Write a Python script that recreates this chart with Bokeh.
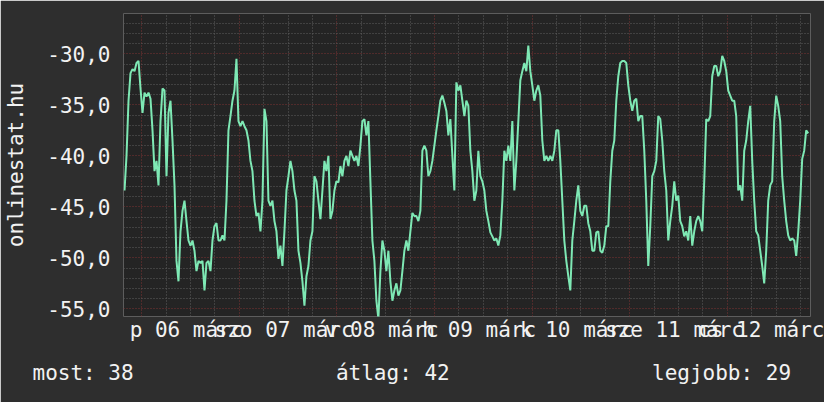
import pandas as pd
from bokeh.plotting import figure
from bokeh.models import FixedTicker, Range1d, Title
from bokeh.embed import file_html
from bokeh.resources import INLINE

# Sensor series: one reading every 29.5 minutes from 5 March 19:45
start = pd.Timestamp("2020-03-05 19:45")
step_minutes = 29.5
values = [
    -43.4, -40.0, -34.6, -31.9, -31.5, -31.7, -30.9, -30.7, -33.4, -35.8,
    -33.8, -34.2, -33.8, -34.4, -37.5, -41.5, -40.5, -42.9, -36.6, -33.4,
    -33.6, -42.0, -35.8, -34.6, -38.5, -42.9, -50.3, -52.3, -47.4, -45.4,
    -44.4, -46.4, -48.3, -48.8, -48.3, -49.3, -51.3, -50.3, -50.5, -50.3,
    -53.2, -50.5, -50.3, -51.3, -48.3, -46.9, -46.6, -48.3, -48.3, -47.8,
    -48.3, -44.4, -37.5, -36.1, -34.6, -33.6, -30.5, -36.6, -37.1, -36.6,
    -37.1, -37.5, -38.5, -40.5, -41.5, -44.4, -45.9, -45.6, -47.4, -44.4,
    -35.4, -36.6, -44.4, -44.9, -44.4, -46.4, -47.4, -50.1, -48.8, -50.8,
    -47.4, -43.4, -42.0, -40.5, -41.5, -43.4, -44.4, -49.3, -50.5, -52.3,
    -54.7, -51.8, -50.8, -48.3, -47.4, -42.0, -42.5, -44.4, -46.2, -43.4,
    -40.5, -41.5, -40.0, -46.2, -45.4, -43.4, -42.5, -42.6, -41.0, -42.0,
    -40.5, -40.0, -41.0, -39.5, -40.0, -40.5, -40.0, -41.0, -39.0, -36.6,
    -36.4, -38.0, -36.6, -42.5, -48.3, -50.3, -54.2, -56.0, -51.3, -48.3,
    -49.3, -51.3, -49.3, -52.3, -54.2, -53.2, -52.5, -53.7, -53.2, -51.3,
    -49.3, -48.3, -49.3, -47.4, -45.6, -45.9, -45.9, -46.4, -45.4, -39.5,
    -39.0, -39.5, -42.0, -41.5, -40.5, -39.0, -37.5, -36.1, -34.6, -34.1,
    -34.8, -35.6, -38.0, -36.4, -40.0, -43.4, -32.8, -33.6, -33.1, -34.6,
    -36.1, -34.6, -35.1, -39.5, -41.5, -44.4, -43.4, -39.5, -42.0, -42.5,
    -43.4, -45.4, -46.4, -47.5, -47.9, -48.3, -48.1, -48.8, -47.8, -44.4,
    -39.5, -40.5, -39.0, -40.5, -36.6, -43.4, -40.5, -36.6, -32.6, -31.7,
    -30.9, -31.7, -29.2, -31.7, -33.1, -34.6, -33.6, -33.1, -34.1, -38.5,
    -40.5, -40.0, -40.5, -40.0, -40.5, -39.5, -37.5, -37.5, -40.5, -44.4,
    -48.3, -50.3, -51.8, -53.2, -48.3, -46.4, -44.4, -42.9, -45.4, -45.9,
    -44.9, -44.9, -46.6, -47.4, -49.3, -49.3, -47.5, -47.4, -49.3, -49.5,
    -48.8, -46.9, -46.9, -42.5, -39.5, -38.5, -34.6, -32.2, -30.9, -30.7,
    -30.7, -30.9, -33.1, -34.6, -35.6, -34.6, -34.4, -36.6, -36.1, -36.1,
    -39.5, -44.4, -50.8, -46.9, -42.0, -41.5, -40.5, -36.1, -36.4, -38.5,
    -41.5, -43.4, -48.3, -46.4, -44.9, -42.5, -44.4, -43.9, -46.4, -46.9,
    -47.9, -47.4, -48.3, -45.9, -48.8, -47.4, -46.4, -45.9, -46.4, -47.4,
    -42.5, -36.4, -36.6, -36.1, -32.2, -31.2, -31.2, -32.2, -31.7, -30.2,
    -30.7, -31.7, -33.6, -34.1, -34.6, -34.6, -36.1, -43.4, -42.9, -44.4,
    -39.5, -38.5, -36.6, -35.1, -40.5, -44.4, -47.4, -47.8, -49.3, -50.8,
    -52.5, -49.3, -44.4, -42.9, -42.5, -36.6, -34.1, -35.1, -36.6, -42.0,
    -44.4, -46.4, -47.8, -48.3, -48.1, -48.3, -49.8, -47.5, -44.4, -40.3,
    -39.5, -37.5, -37.8,
]

# Day labels (Hungarian weekday abbreviation, day, month)
label_days = ["2020-03-06", "2020-03-07", "2020-03-08", "2020-03-09",
              "2020-03-10", "2020-03-11", "2020-03-12"]
day_labels = ["p 06 márc", "szo 07 márc", "v 08 márc", "h 09 márc",
              "k 10 márc", "sze 11 márc", "cs 12 márc"]

y_ticks = [-55, -50, -45, -40, -35, -30]
y_tick_labels = ["-55,0", "-50,0", "-45,0", "-40,0", "-35,0", "-30,0"]

view_start = pd.Timestamp("2020-03-05 19:30")
view_end = pd.Timestamp("2020-03-12 20:28")
y_low, y_high = -55.75, -26.05


def ms(ts):
    return int(pd.Timestamp(ts).value // 10**6)


times = [start + pd.Timedelta(minutes=step_minutes * i) for i in range(len(values))]
xs = [ms(t) for t in times]

label_ticks = [ms(pd.Timestamp(d) + pd.Timedelta(hours=11)) for d in label_days]
midnights = [ms(d) for d in label_days]
quarter_days = []
t = pd.Timestamp("2020-03-05 00:00")
while t <= pd.Timestamp("2020-03-13"):
    if t.hour != 0:
        quarter_days.append(ms(t))
    t += pd.Timedelta(hours=6)

FONT = "DejaVu Sans Mono"
FSIZE = "21px"
TEXT = "#f2f2f2"
BG = "#2e2e2e"

p = figure(width=824, height=402, output_backend="svg", toolbar_location=None,
           x_range=Range1d(ms(view_start), ms(view_end)),
           y_range=Range1d(y_low, y_high),
           min_border_left=123, min_border_right=14,
           min_border_top=13, min_border_bottom=86,
           background_fill_color="#242424", border_fill_color=BG,
           outline_line_color=None)

# grid: red dotted major lines, grey dotted minor lines
p.xgrid.ticker = FixedTicker(ticks=midnights, minor_ticks=quarter_days)
p.ygrid.ticker = FixedTicker(ticks=y_ticks,
                             minor_ticks=[v for v in range(-56, -25) if v % 5 != 0])
for g in (p.xgrid, p.ygrid):
    g.grid_line_color = "#7c3232"
    g.grid_line_dash = "1 2"
    g.grid_line_width = 1
    g.minor_grid_line_color = "#5e5e5e"
    g.minor_grid_line_dash = "1 2"
    g.minor_grid_line_width = 1

p.line(x=xs, y=values, line_color="#7ee8b4", line_width=2)

# axes
p.xaxis.ticker = FixedTicker(ticks=label_ticks)
p.xaxis.major_label_overrides = dict(zip(label_ticks, day_labels))
p.yaxis.ticker = FixedTicker(ticks=y_ticks)
p.yaxis.major_label_overrides = dict(zip(y_ticks, y_tick_labels))
for ax in (p.xaxis[0], p.yaxis[0]):
    ax.axis_line_color = None
    ax.major_tick_line_color = None
    ax.minor_tick_line_color = None
    ax.major_tick_out = 0
    ax.major_tick_in = 0
    ax.minor_tick_out = 0
    ax.minor_tick_in = 0
    ax.major_label_text_font = FONT
    ax.major_label_text_font_size = FSIZE
    ax.major_label_text_color = TEXT
p.xaxis.major_label_standoff = 1
p.yaxis.major_label_standoff = 13

p.yaxis.axis_label = "onlinestat.hu"
p.yaxis.axis_label_text_font = FONT
p.yaxis.axis_label_text_font_size = FSIZE
p.yaxis.axis_label_text_font_style = "normal"
p.yaxis.axis_label_text_color = TEXT
p.yaxis.axis_label_text_line_height = 0.8
p.yaxis.axis_label_standoff = 16

# summary line under the chart: current, average and best value,
# laid out in fixed monospace columns
last_v = abs(values[-1])
mean_v = abs(sum(values) / len(values))
best_v = abs(max(values))
summary = [f"most: {last_v:.0f}", f"átlag: {mean_v:.0f}", f"legjobb: {best_v:.0f}"]
summary_cols = [0, 24, 49]
NBSP = "\u00a0"
line = ""
for txt, col in zip(summary, summary_cols):
    line = line.ljust(col, NBSP) + txt

p.add_layout(Title(text=line, align="left", offset=-91, standoff=28,
                   text_font=FONT, text_font_size=FSIZE, text_font_style="normal",
                   text_color=TEXT), "below")

open("out.html", "w").write(file_html(p, INLINE))
